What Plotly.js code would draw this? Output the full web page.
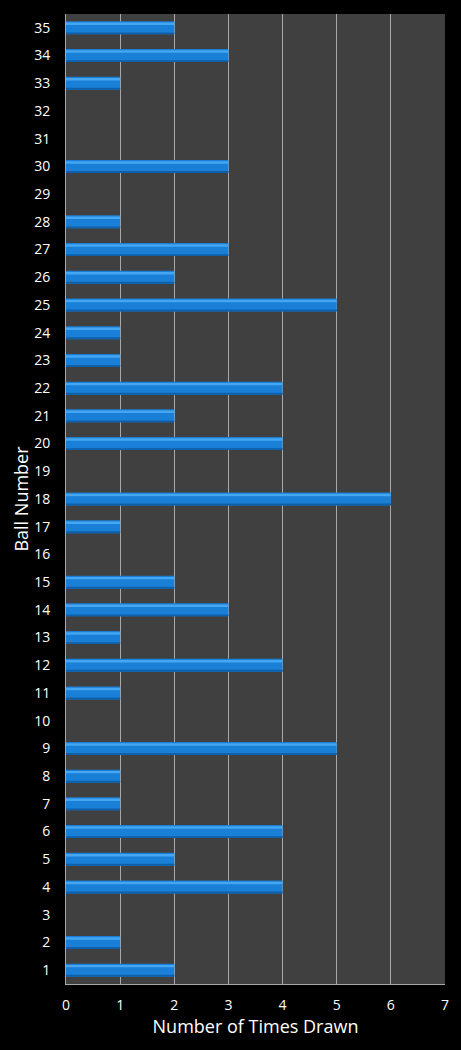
<html>
<head>
    <meta charset="UTF-8">
    <script src="https://cdn.plot.ly/plotly-3.0.1.min.js"></script>
</head>
<body style="margin: 0; background-color: black;">
    <div id="plot" style="width: 461px; height: 1050px;"></div>
    <script>
        const balls = [];
        for (let i = 1; i <= 35; i++) balls.push(i);
        const timesDrawn = [2, 1, 0, 4, 2, 4, 1, 1, 5, 0,
                            1, 4, 1, 3, 2, 0, 1, 6, 0, 4,
                            2, 4, 1, 1, 5, 2, 3, 1, 0, 3,
                            0, 0, 1, 3, 2];
        const xTicks = [0, 1, 2, 3, 4, 5, 6, 7];

        const bars = {
            x: timesDrawn,
            y: balls,
            type: 'bar',
            orientation: 'h',
            width: 0.47,
            offset: -0.235,
            marker: { color: '#1a7fd6', line: { width: 0 } },
            hoverinfo: 'none'
        };
        // darker edge at the bottom and lighter stripe on top, for the bevel look
        const shade = {
            x: timesDrawn,
            y: balls,
            type: 'bar',
            orientation: 'h',
            width: 0.07,
            offset: -0.235,
            marker: { color: '#0e60aa', line: { width: 0 } },
            hoverinfo: 'none'
        };
        const shine = {
            x: timesDrawn,
            y: balls,
            type: 'bar',
            orientation: 'h',
            width: 0.09,
            offset: 0.1,
            marker: { color: '#45a6f2', line: { width: 0 } },
            hoverinfo: 'none'
        };

        const font = { family: 'Open Sans, DejaVu Sans, sans-serif', color: 'white' };

        Plotly.newPlot('plot', [bars, shade, shine], {
            width: 461,
            height: 1050,
            showlegend: false,
            barmode: 'overlay',
            paper_bgcolor: 'black',
            plot_bgcolor: '#404040',
            margin: { l: 66, r: 16, t: 14, b: 66 },
            xaxis: {
                range: [0, 7],
                tickvals: xTicks,
                ticks: '',
                ticklabelstandoff: 8,
                showgrid: true,
                gridcolor: '#a8a8a8',
                gridwidth: 1,
                zeroline: false,
                showline: true,
                linecolor: '#a8a8a8',
                tickfont: Object.assign({ size: 14 }, font),
                title: { text: 'Number of Times Drawn', font: Object.assign({ size: 18 }, font), standoff: 6 }
            },
            yaxis: {
                range: [0.5, 35.5],
                tickvals: balls,
                ticks: '',
                ticklabelstandoff: 12,
                showgrid: false,
                zeroline: false,
                showline: true,
                linecolor: '#a8a8a8',
                tickfont: Object.assign({ size: 14 }, font),
                title: { text: 'Ball Number', font: Object.assign({ size: 18 }, font), standoff: 0 }
            }
        }, { staticPlot: true });
    </script>
</body>
</html>
